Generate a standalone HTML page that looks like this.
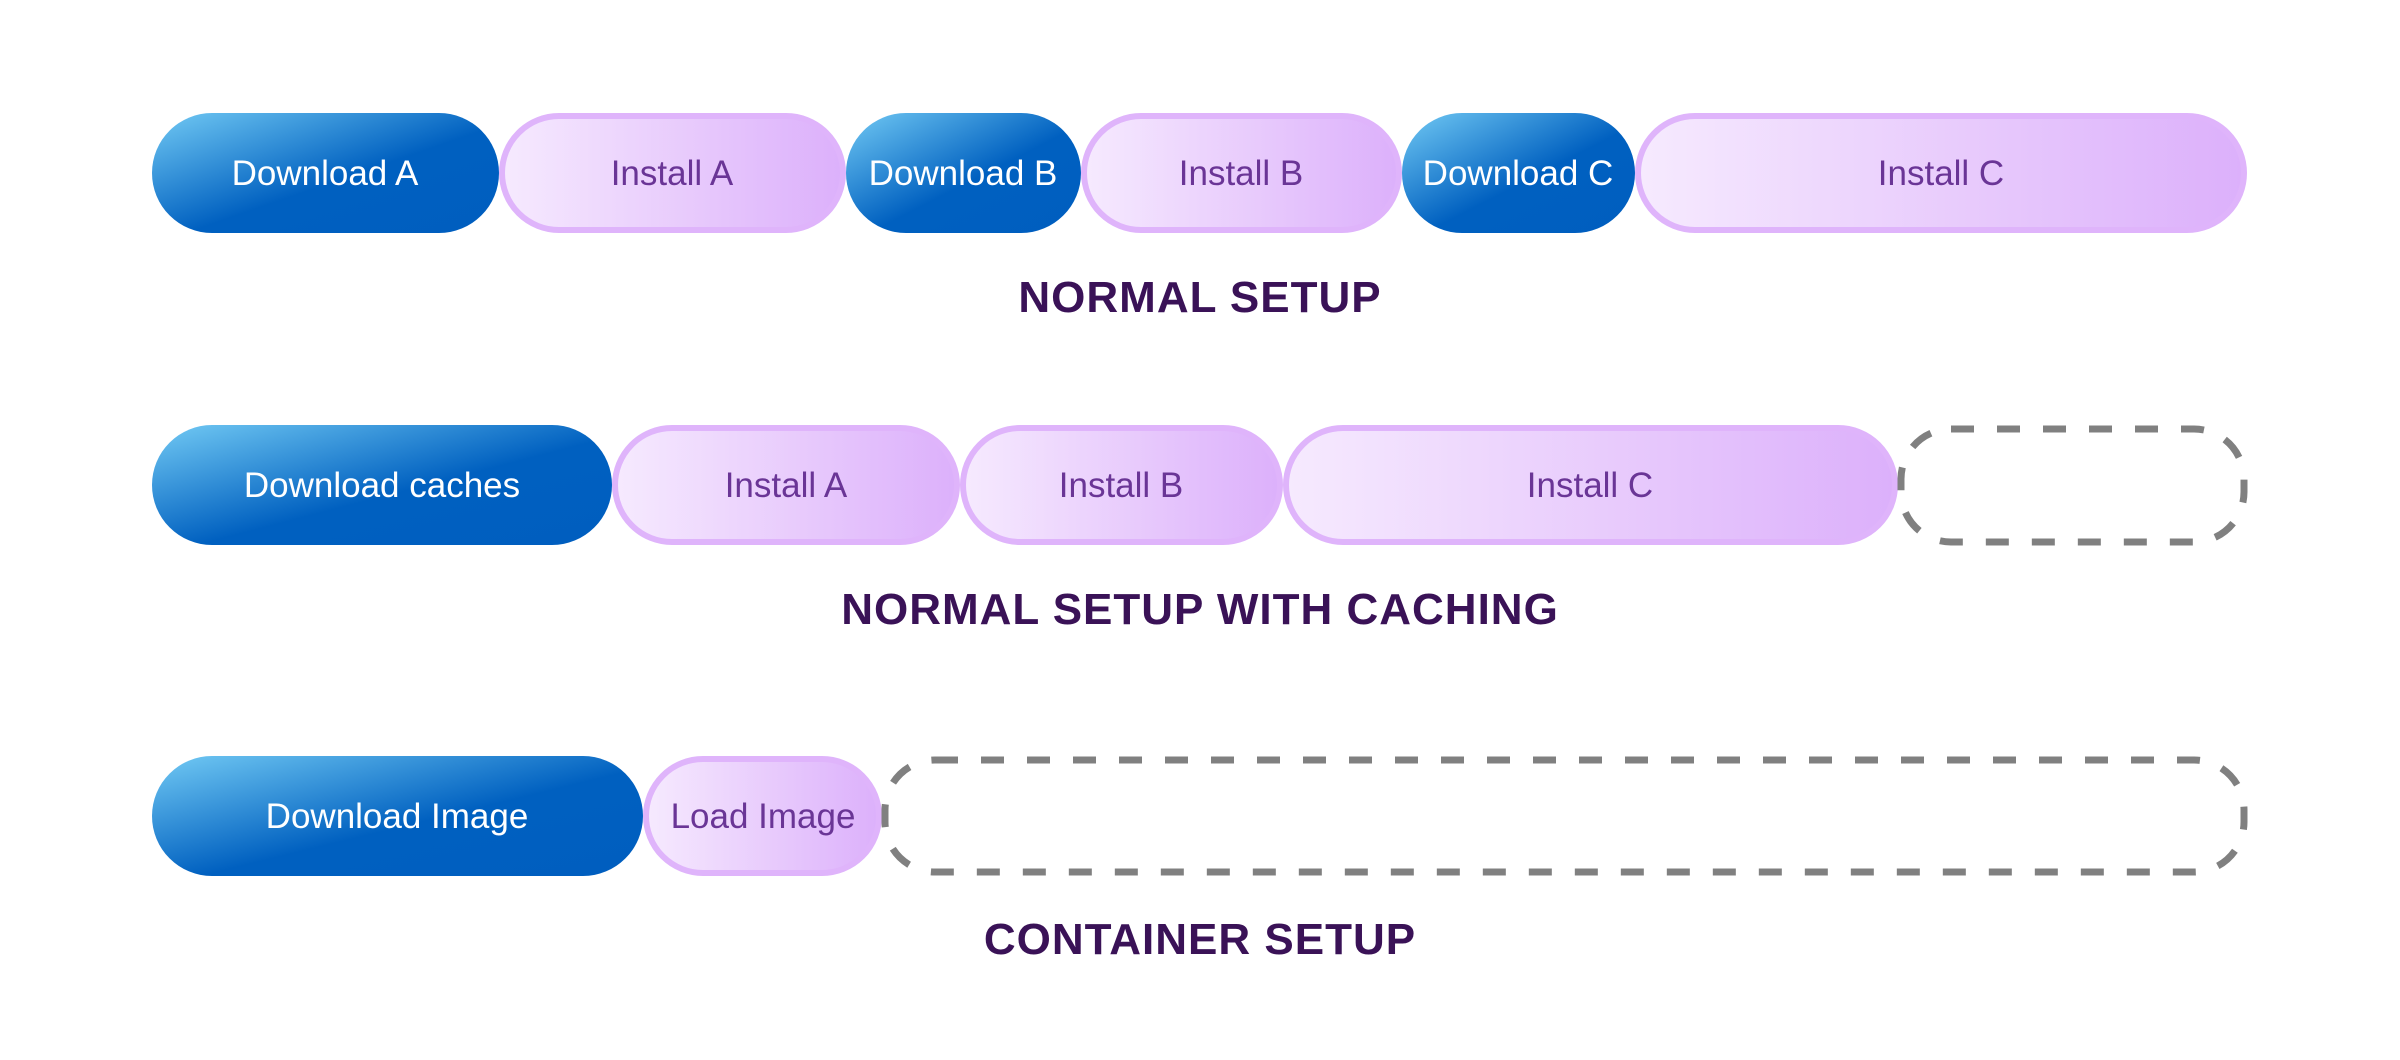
<!DOCTYPE html>
<html><head><meta charset="utf-8"><style>
html,body{margin:0;padding:0;background:#fff;width:2400px;height:1060px;overflow:hidden}
</style></head><body>
<svg width="2400" height="1060" viewBox="0 0 2400 1060" xmlns="http://www.w3.org/2000/svg">
<defs>
<linearGradient id="dl" x1="0" y1="0" x2="1" y2="1" gradientUnits="objectBoundingBox">
<stop offset="0" stop-color="#72caf4"/><stop offset="0.55" stop-color="#0060c0"/><stop offset="1" stop-color="#005ebf"/>
</linearGradient>
<linearGradient id="in" x1="0" y1="0" x2="1" y2="0">
<stop offset="0" stop-color="#f6eafe"/><stop offset="1" stop-color="#dcb0fb"/>
</linearGradient>
</defs>
<g font-family="Liberation Sans, sans-serif" font-size="35" text-anchor="middle">
<!-- Row 1 -->
<rect x="152" y="113" width="347" height="120" rx="60" fill="url(#dl)"/>
<text x="325" y="185" fill="#fff">Download A</text>
<rect x="502" y="116" width="341" height="114" rx="57" fill="url(#in)" stroke="#dfb4fb" stroke-width="6"/>
<text x="672" y="185" fill="#6a3596">Install A</text>
<rect x="846" y="113" width="235" height="120" rx="60" fill="url(#dl)"/>
<text x="963" y="185" fill="#fff">Download B</text>
<rect x="1084" y="116" width="315" height="114" rx="57" fill="url(#in)" stroke="#dfb4fb" stroke-width="6"/>
<text x="1241" y="185" fill="#6a3596">Install B</text>
<rect x="1402" y="113" width="233" height="120" rx="60" fill="url(#dl)"/>
<text x="1518" y="185" fill="#fff">Download C</text>
<rect x="1638" y="116" width="606" height="114" rx="57" fill="url(#in)" stroke="#dfb4fb" stroke-width="6"/>
<text x="1941" y="185" fill="#6a3596">Install C</text>
<text x="1200" y="312" font-size="44" font-weight="bold" letter-spacing="1" fill="#3a1257">NORMAL SETUP</text>
<!-- Row 2 -->
<rect x="152" y="425" width="460" height="120" rx="60" fill="url(#dl)"/>
<text x="382" y="497" fill="#fff">Download caches</text>
<rect x="615" y="428" width="342" height="114" rx="57" fill="url(#in)" stroke="#dfb4fb" stroke-width="6"/>
<text x="786" y="497" fill="#6a3596">Install A</text>
<rect x="963" y="428" width="317" height="114" rx="57" fill="url(#in)" stroke="#dfb4fb" stroke-width="6"/>
<text x="1121" y="497" fill="#6a3596">Install B</text>
<rect x="1286" y="428" width="609" height="114" rx="57" fill="url(#in)" stroke="#dfb4fb" stroke-width="6"/>
<text x="1590" y="497" fill="#6a3596">Install C</text>
<rect x="1901" y="429" width="343" height="113" rx="50" fill="none" stroke="#808080" stroke-width="7" stroke-dasharray="23 23"/>
<text x="1200" y="624" font-size="44" font-weight="bold" letter-spacing="1" fill="#3a1257">NORMAL SETUP WITH CACHING</text>
<!-- Row 3 -->
<rect x="152" y="756" width="491" height="120" rx="60" fill="url(#dl)"/>
<text x="397" y="828" fill="#fff">Download Image</text>
<rect x="646" y="759" width="233" height="114" rx="57" fill="url(#in)" stroke="#dfb4fb" stroke-width="6"/>
<text x="763" y="828" fill="#6a3596">Load Image</text>
<rect x="885" y="760" width="1359" height="112" rx="50" fill="none" stroke="#808080" stroke-width="7" stroke-dasharray="23 23"/>
<text x="1200" y="954" font-size="44" font-weight="bold" letter-spacing="1" fill="#3a1257">CONTAINER SETUP</text>
</g>
</svg>
</body></html>
